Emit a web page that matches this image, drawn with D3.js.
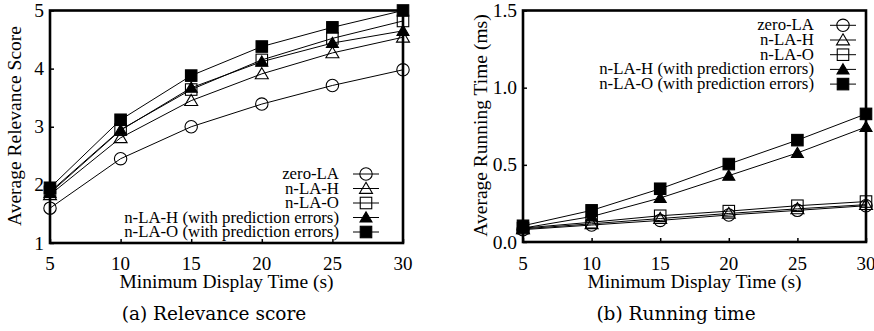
<!DOCTYPE html>
<html>
<head>
<meta charset="utf-8">
<script src="https://cdn.jsdelivr.net/npm/d3@7"></script>
<style>
  html, body { margin: 0; padding: 0; background: #fff; }
</style>
</head>
<body>
<svg id="fig" width="874" height="331"></svg>
<script>
// Shared x values (minimum display time, seconds)
const displayTimes = [5, 10, 15, 20, 25, 30];

const seriesNames = [
  "zero-LA",
  "n-LA-H",
  "n-LA-O",
  "n-LA-H (with prediction errors)",
  "n-LA-O (with prediction errors)"
];
const markerKinds = ["circle", "triangle", "square", "triangleFilled", "squareFilled"];

// (a) Average relevance score
const relZeroLA   = [1.60, 2.45, 3.00, 3.39, 3.71, 3.98];
const relNLAH     = [1.83, 2.81, 3.45, 3.91, 4.27, 4.54];
const relNLAO     = [1.88, 2.95, 3.64, 4.15, 4.52, 4.82];
const relNLAHErr  = [1.86, 2.94, 3.67, 4.12, 4.44, 4.65];
const relNLAOErr  = [1.95, 3.12, 3.88, 4.38, 4.71, 5.00];

// (b) Average running time (ms)
const timeZeroLA  = [0.080, 0.110, 0.140, 0.175, 0.205, 0.235];
const timeNLAH    = [0.085, 0.118, 0.152, 0.185, 0.215, 0.242];
const timeNLAO    = [0.090, 0.128, 0.170, 0.200, 0.235, 0.262];
const timeNLAHErr = [0.090, 0.165, 0.285, 0.430, 0.577, 0.745];
const timeNLAOErr = [0.105, 0.205, 0.345, 0.505, 0.660, 0.830];

const xTicks = [5, 10, 15, 20, 25, 30];
const relTicks = [1, 2, 3, 4, 5];
const timeTicks = [0.0, 0.5, 1.0, 1.5];

const SERIF = "Liberation Serif, Times New Roman, Times, serif";
const CAPTION_FONT = "DejaVu Serif, serif";

const svg = d3.select("#fig").attr("font-family", SERIF);

function drawMarker(g, kind, x, y) {
  if (kind === "circle") {
    g.append("circle").attr("cx", x).attr("cy", y).attr("r", 6.2)
      .attr("fill", "none").attr("stroke", "#000").attr("stroke-width", 1.1);
  } else if (kind === "square" || kind === "squareFilled") {
    const s = 11.5;
    g.append("rect").attr("x", x - s / 2).attr("y", y - s / 2)
      .attr("width", s).attr("height", s)
      .attr("fill", kind === "squareFilled" ? "#000" : "none")
      .attr("stroke", "#000").attr("stroke-width", 1.1);
  } else {
    const w = kind === "triangle" ? 6.5 : 6.0;
    const pts = [[x, y - w * 0.95], [x + w, y + w * 0.75], [x - w, y + w * 0.75]];
    g.append("path").attr("d", d3.line()(pts) + "Z")
      .attr("fill", kind === "triangleFilled" ? "#000" : "none")
      .attr("stroke", "#000").attr("stroke-width", 1.1);
  }
}

function label(g, x, y, txt, size, anchor, family) {
  return g.append("text").attr("x", x).attr("y", y)
    .attr("text-anchor", anchor).attr("font-size", size)
    .attr("font-family", family || SERIF).attr("fill", "#000").text(txt);
}

function panel(cfg) {
  const x = d3.scaleLinear().domain([5, 30]).range([cfg.left, cfg.right]);
  const y = d3.scaleLinear().domain(cfg.yDomain).range([cfg.bottom, cfg.top]);
  const g = svg.append("g");

  // data lines and markers
  const line = d3.line().x((d, i) => x(displayTimes[i])).y(d => y(d));
  cfg.series.forEach(vals => {
    g.append("path").datum(vals).attr("d", line)
      .attr("fill", "none").attr("stroke", "#000").attr("stroke-width", 1);
  });
  cfg.series.forEach((vals, si) => {
    vals.forEach((v, i) => drawMarker(g, markerKinds[si], x(displayTimes[i]), y(v)));
  });

  // inward ticks
  const bottomAxis = d3.axisBottom(x).tickValues(xTicks).tickSizeInner(-4).tickSizeOuter(0).tickFormat("");
  const leftAxis = d3.axisLeft(y).tickValues(cfg.yTicks).tickSizeInner(-4).tickSizeOuter(0).tickFormat("");
  g.append("g").attr("transform", `translate(0,${cfg.bottom})`).call(bottomAxis)
    .call(a => a.select(".domain").remove())
    .selectAll("line").attr("stroke", "#000").attr("stroke-width", 1.5);
  g.append("g").attr("transform", `translate(${cfg.left},0)`).call(leftAxis)
    .call(a => a.select(".domain").remove())
    .selectAll("line").attr("stroke", "#000").attr("stroke-width", 1.5);

  // frame
  g.append("rect").attr("x", cfg.left).attr("y", cfg.top)
    .attr("width", cfg.right - cfg.left).attr("height", cfg.bottom - cfg.top)
    .attr("fill", "none").attr("stroke", "#000").attr("stroke-width", 2.6);

  // tick labels
  xTicks.forEach(t => label(g, x(t), 270, String(t), 19, "middle"));
  cfg.yTicks.forEach(t => label(g, cfg.left - 6, y(t) + 6.5, cfg.yFmt(t), 19.5, "end"));

  // axis titles
  label(g, (cfg.left + cfg.right) / 2, 288, "Minimum Display Time (s)", 19.5, "middle");
  g.append("text")
    .attr("transform", `translate(${cfg.yTitleX},${cfg.yTitleY}) rotate(-90)`)
    .attr("text-anchor", "middle").attr("font-size", 19.5)
    .attr("font-family", SERIF).text(cfg.yTitle);

  // caption
  label(g, cfg.captionX, 320, cfg.caption, 18.5, "middle", CAPTION_FONT);

  // legend
  seriesNames.forEach((name, i) => {
    const ly = cfg.legendY + i * cfg.legendStep;
    label(g, cfg.legendTextX, ly + 5, name, 16.8, "end");
    g.append("line").attr("x1", cfg.legendMarkX - 13).attr("x2", cfg.legendMarkX + 13)
      .attr("y1", ly).attr("y2", ly).attr("stroke", "#000").attr("stroke-width", 1);
    drawMarker(g, markerKinds[i], cfg.legendMarkX, ly);
  });
}

panel({
  left: 50, right: 403, top: 10.5, bottom: 243,
  yDomain: [1, 5], yTicks: relTicks, yFmt: d => d,
  series: [relZeroLA, relNLAH, relNLAO, relNLAHErr, relNLAOErr],
  yTitle: "Average Relevance Score", yTitleX: 21, yTitleY: 126,
  caption: "(a) Relevance score", captionX: 214,
  legendTextX: 339, legendMarkX: 366, legendY: 174, legendStep: 14.5
});

panel({
  left: 523, right: 866, top: 10.5, bottom: 242,
  yDomain: [0, 1.5], yTicks: timeTicks, yFmt: d => d.toFixed(1),
  series: [timeZeroLA, timeNLAH, timeNLAO, timeNLAHErr, timeNLAOErr],
  yTitle: "Average Running Time (ms)", yTitleX: 487, yTitleY: 125.5,
  caption: "(b) Running time", captionX: 676,
  legendTextX: 814, legendMarkX: 843, legendY: 25.3, legendStep: 14.7
});
</script>
</body>
</html>
